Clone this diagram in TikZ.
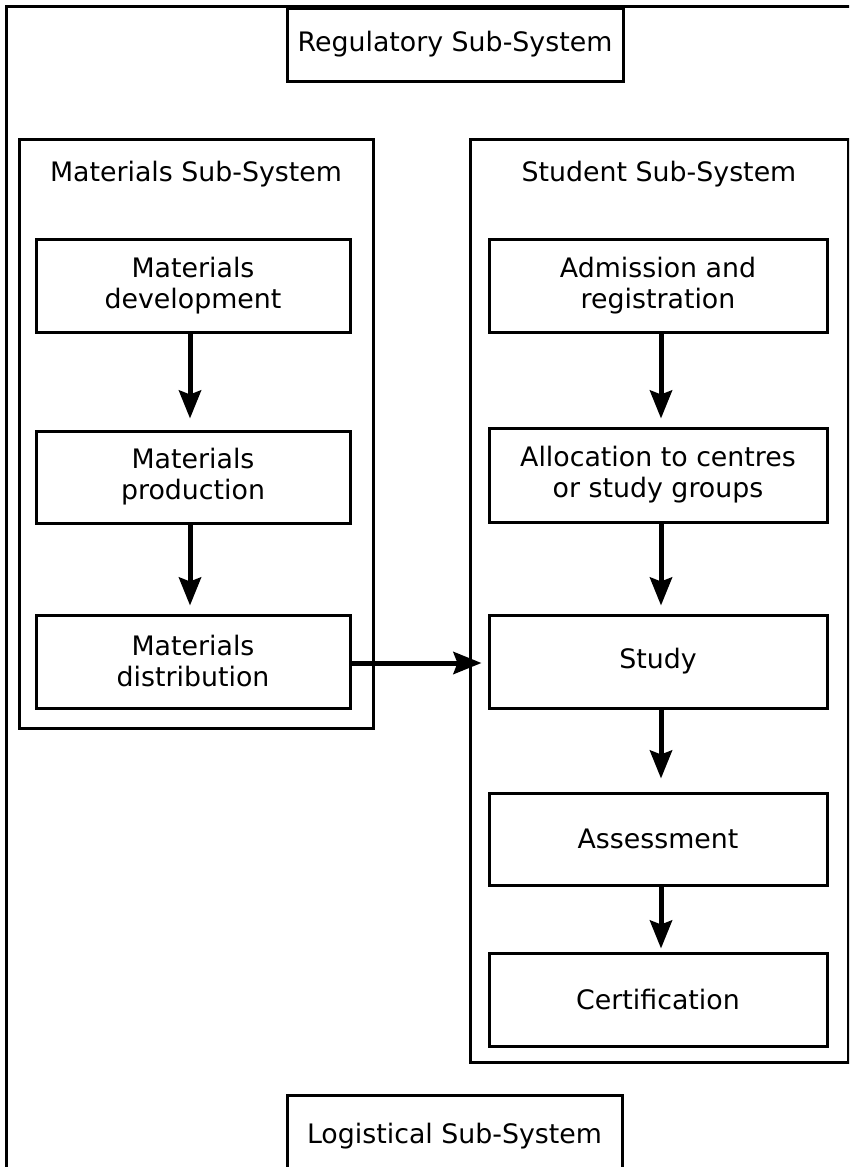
\documentclass[tikz,border=0pt]{standalone}
\usepackage{fontspec}
\setmainfont{DejaVu Sans}
\usetikzlibrary{arrows.meta}
\begin{document}
\begin{tikzpicture}[x=1pt,y=-1pt,
  txt/.style={font=\fontsize{26.8}{31}\selectfont},
  box/.style={draw, line width=3pt, inner sep=0pt, align=center, txt},
  group/.style={draw, line width=3pt, inner sep=0pt},
  flow/.style={line width=5pt, -{Stealth[length=28pt,width=22pt,inset=4pt]}}]
\clip (0,0) rectangle (849,1167);
\fill[white] (0,0) rectangle (849,1167);
% outer frame (clipped at right and bottom)
\draw[line width=3pt] (880,6) -- (6,6) -- (6,1200);
% sub-systems
\node[box, minimum width=336pt, minimum height=73pt, fill=white] (reg) at (455,44.5) {Regulatory Sub-System};
\node[box, minimum width=335pt, minimum height=82pt, fill=white] (log) at (454.5,1136) {Logistical Sub-System};
\node[group, minimum width=354pt, minimum height=589pt] (mat) at (196,433.5) {};
\node[group, minimum width=378pt, minimum height=923pt] (stu) at (659,600.5) {};
\node[txt, anchor=base] (mattitle) at (196,181) {Materials Sub-System};
\node[txt, anchor=base] (stutitle) at (659,181) {Student Sub-System};
% materials boxes
\node[box, minimum width=314pt, minimum height=93pt] (dev) at (193,285.5) {Materials\\development};
\node[box, minimum width=314pt, minimum height=92pt] (prod) at (193,477) {Materials\\production};
\node[box, minimum width=314pt, minimum height=93pt] (dist) at (193,661.5) {Materials\\distribution};
% student boxes
\node[box, minimum width=338pt, minimum height=93pt] (adm) at (658,285.5) {Admission and\\registration};
\node[box, minimum width=338pt, minimum height=94pt] (alloc) at (658,475) {Allocation to centres\\or study groups};
\node[box, minimum width=338pt, minimum height=93pt] (study) at (658,661.5) {Study};
\node[box, minimum width=338pt, minimum height=92pt] (assess) at (658,839) {Assessment};
\node[box, minimum width=338pt, minimum height=93pt] (cert) at (658,999.5) {Certification};
% arrows
\draw[flow, shorten >=11pt] ([xshift=-3pt]dev.south) -- ([xshift=-3pt]prod.north);
\draw[flow, shorten >=8pt] ([xshift=-3pt]prod.south) -- ([xshift=-3pt]dist.north);
\draw[flow, shorten >=8pt] ([xshift=3pt]adm.south) -- ([xshift=3pt]alloc.north);
\draw[flow, shorten >=8pt] ([xshift=3pt]alloc.south) -- ([xshift=3pt]study.north);
\draw[flow, shorten >=13pt] ([xshift=3pt]study.south) -- ([xshift=3pt]assess.north);
\draw[flow, shorten >=3pt] ([xshift=3pt]assess.south) -- ([xshift=3pt]cert.north);
\draw[flow, shorten >=6pt] ([yshift=-1.5pt]dist.east) -- ([yshift=-1.5pt]study.west);
\end{tikzpicture}
\end{document}
